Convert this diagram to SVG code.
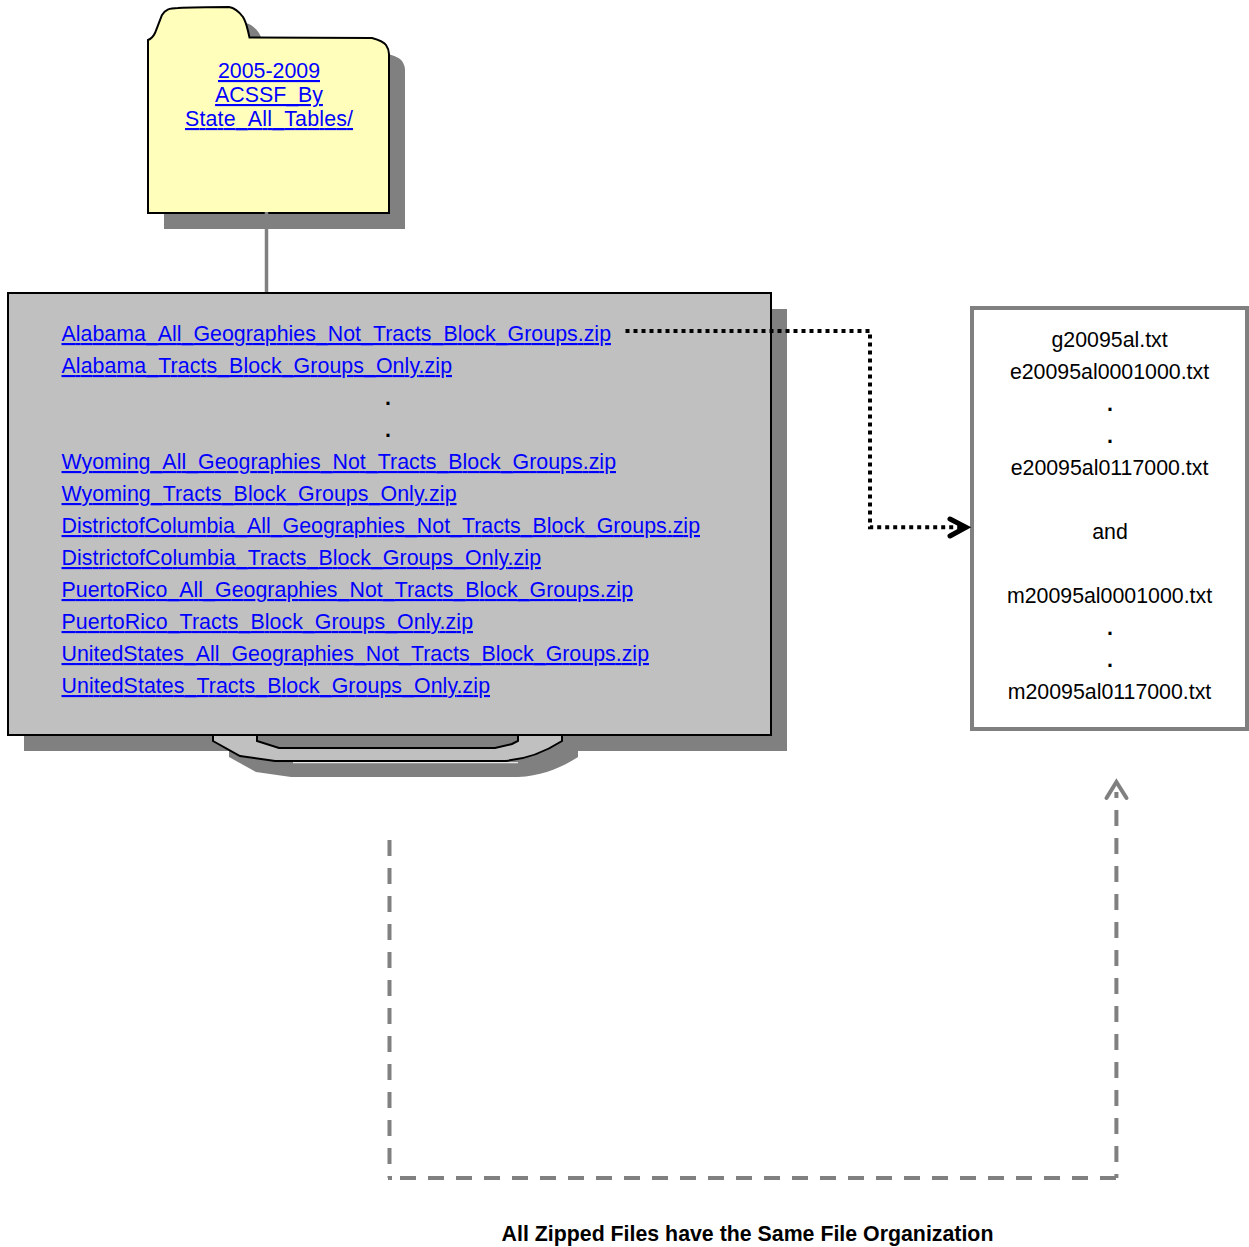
<svg xmlns="http://www.w3.org/2000/svg" width="1249" height="1247" viewBox="0 0 1249 1247">
<defs>
<style>
text{font-family:"Liberation Sans",Arial,sans-serif;font-size:21.33px;}
.l{fill:#0000ff;text-decoration:underline;}
.c{text-anchor:middle;fill:#000;}
.s{fill:#808080;}
.o{stroke:#000;stroke-width:2;}
</style>
<path id="fold" d="M148,40 C151,39 153,37 155,33 L162,15 C165,10 169,8 178,8 C195,7 215,7 229,7 C236,8 240,13 243,17 C246,22 247,27 248,31 L249.500,37.500 L372,38 C379,40 384,42 386,45 C388,48 389,51 389,54 L389,213 L148,213 Z"/>
<path id="base" d="M213,735 L213,741 L240,756 L275,761 L502,761 C528,760 548,750 562,741 L562,735 Z"/>
</defs>
<g id="shadows">
<use href="#fold" class="s" x="16" y="16"/>
<rect class="s" x="24" y="309" width="763" height="442"/>
<use href="#base" class="s" x="16" y="16"/>
</g>
<g id="folder">
<use href="#fold" fill="#ffffbb" class="o"/>
<text class="l" x="269" y="78" text-anchor="middle">2005-2009</text>
<text class="l" x="269" y="102" text-anchor="middle">ACSSF_By</text>
<text class="l" x="269" y="126" text-anchor="middle" textLength="168">State_All_Tables/</text>
</g>
<g id="connectors">
<path d="M266.500,212 V293" fill="none" stroke="#808080" stroke-width="3.500"/>
</g>
<g id="zip-list">
<path d="M293,762.700 H518" stroke="#fff" fill="none"/>
<use href="#base" fill="#c0c0c0" class="o"/>
<path d="M257,735 V741 L279,748 H495 L512,744 L518,741 V735 Z" fill="#808080" class="o"/>
<rect x="8" y="293" width="763" height="442" fill="#c0c0c0" class="o"/>
<text class="l" x="61.500" y="341" textLength="549.500">Alabama_All_Geographies_Not_Tracts_Block_Groups.zip</text>
<text class="l" x="61.500" y="373" textLength="390.500">Alabama_Tracts_Block_Groups_Only.zip</text>
<text class="c" x="388" y="405" style="font-weight:bold">.</text>
<text class="c" x="388" y="437" style="font-weight:bold">.</text>
<text class="l" x="61.500" y="469" textLength="554.500">Wyoming_All_Geographies_Not_Tracts_Block_Groups.zip</text>
<text class="l" x="61.500" y="501" textLength="395">Wyoming_Tracts_Block_Groups_Only.zip</text>
<text class="l" x="61.500" y="533" textLength="638.500">DistrictofColumbia_All_Geographies_Not_Tracts_Block_Groups.zip</text>
<text class="l" x="61.500" y="565" textLength="479.500">DistrictofColumbia_Tracts_Block_Groups_Only.zip</text>
<text class="l" x="61.500" y="597" textLength="571.500">PuertoRico_All_Geographies_Not_Tracts_Block_Groups.zip</text>
<text class="l" x="61.500" y="629" textLength="411.500">PuertoRico_Tracts_Block_Groups_Only.zip</text>
<text class="l" x="61.500" y="661" textLength="587.500">UnitedStates_All_Geographies_Not_Tracts_Block_Groups.zip</text>
<text class="l" x="61.500" y="693" textLength="428.500">UnitedStates_Tracts_Block_Groups_Only.zip</text>
</g>
<g id="contents">
<rect x="972" y="308" width="275" height="421" fill="#fff" stroke="#808080" stroke-width="4"/>
<text class="c" x="1109.600" y="347">g20095al.txt</text>
<text class="c" x="1109.500" y="379">e20095al0001000.txt</text>
<text class="c" x="1110" y="411" style="font-weight:bold">.</text>
<text class="c" x="1110" y="443" style="font-weight:bold">.</text>
<text class="c" x="1109.500" y="475">e20095al0117000.txt</text>
<text class="c" x="1110" y="539">and</text>
<text class="c" x="1109.500" y="603">m20095al0001000.txt</text>
<text class="c" x="1110" y="635" style="font-weight:bold">.</text>
<text class="c" x="1110" y="667" style="font-weight:bold">.</text>
<text class="c" x="1109.500" y="699">m20095al0117000.txt</text>
</g>
<g id="connectors2" fill="none">
<path d="M625.500,331 H870 V527.300 H966" stroke="#000" stroke-width="4" stroke-dasharray="4 4"/>
<path d="M950,519 L966,527.300 L950,536" stroke="#000" stroke-width="5" stroke-linecap="round" stroke-linejoin="miter"/>
<path d="M389.500,840 V1178" stroke="#808080" stroke-width="4" stroke-dasharray="16 12"/>
<path d="M388,1178 H392 M400,1178 H1116" stroke="#808080" stroke-width="4" stroke-dasharray="16 12"/>
<path d="M1116.400,810 V1178" stroke="#808080" stroke-width="4" stroke-dasharray="16 12"/>
<path d="M1116.400,792 V798" stroke="#808080" stroke-width="4"/>
<path d="M1106.500,798 L1116.400,782 L1126.500,798" stroke="#808080" stroke-width="4" stroke-linecap="round"/>
</g>
<text x="747.500" y="1241" text-anchor="middle" style="font-weight:bold">All Zipped Files have the Same File Organization</text>
</svg>
